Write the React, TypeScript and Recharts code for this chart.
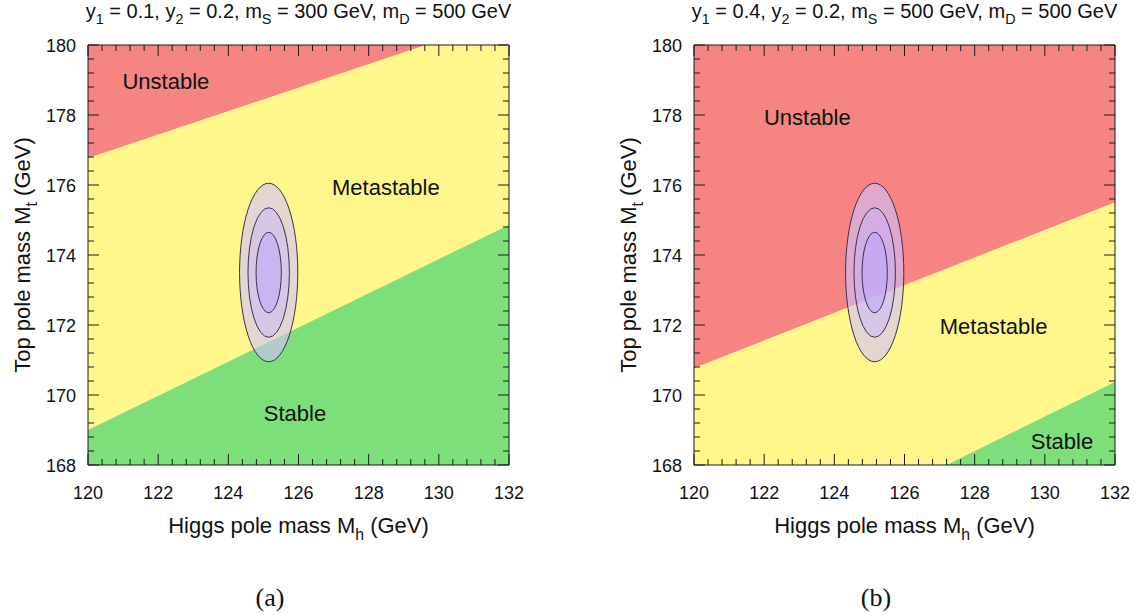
import React from 'react';
import { ComposedChart, XAxis, YAxis, Area, Scatter } from 'recharts';

// ---------- data ----------
const mhDomain: [number, number] = [120, 132];
const mtDomain: [number, number] = [168, 180];
const mhMajorTicks = [120, 122, 124, 126, 128, 130, 132];
const mtMajorTicks = [168, 170, 172, 174, 176, 178, 180];
const minorDivisions = 5;

// full plot (metastable background)
const metastableTop = [
  { mh: 120, mt: 180 },
  { mh: 132, mt: 180 },
];

// Panel (a): y1 = 0.1, y2 = 0.2, mS = 300 GeV, mD = 500 GeV
const unstableEdgeA = [
  { mh: 120, mt: 176.77 },
  { mh: 132, mt: 180.8 },
];
const stableEdgeA = [
  { mh: 120, mt: 169.0 },
  { mh: 132, mt: 174.86 },
];
const regionLabelsA = [
  { mh: 122.22, mt: 178.97, name: 'Unstable' },
  { mh: 128.49, mt: 175.94, name: 'Metastable' },
  { mh: 125.9, mt: 169.49, name: 'Stable' },
];

// Panel (b): y1 = 0.4, y2 = 0.2, mS = 500 GeV, mD = 500 GeV
const unstableEdgeB = [
  { mh: 120, mt: 170.77 },
  { mh: 132, mt: 175.51 },
];
const stableEdgeB = [
  { mh: 127.2, mt: 168.0 },
  { mh: 132, mt: 170.37 },
];
const regionLabelsB = [
  { mh: 123.23, mt: 177.94, name: 'Unstable' },
  { mh: 128.54, mt: 171.97, name: 'Metastable' },
  { mh: 130.49, mt: 168.69, name: 'Stable' },
];

// experimental ellipses (1, 2, 3 sigma), outer first
const ellipseCenter = [{ mh: 125.15, mt: 173.5 }];
const ellipseSemiMh = [0.83, 0.59, 0.36];
const ellipseSemiMt = [2.55, 1.85, 1.15];

// ---------- style / layout ----------
const COLORS = {
  unstable: '#f58483',
  metastable: '#fff78c',
  stable: '#7ddf7a',
  frame: '#1a1a1a',
  ellipseStroke: '#3a3150',
};
const ellipseFills = [
  { fill: 'rgb(208,192,255)', opacity: 0.6 },
  { fill: 'rgb(200,180,255)', opacity: 0.45 },
  { fill: 'rgb(185,165,255)', opacity: 0.5 },
];
const CHART_W = 560;
const CHART_H = 615;
const AXIS_T = 1; // axis thickness in layout
const MARGIN = { top: 44, right: 50, bottom: 149, left: 87 };
const PLOT_LEFT = MARGIN.left + AXIS_T;
const PLOT_TOP = MARGIN.top + AXIS_T;
const PLOT_W = CHART_W - MARGIN.left - MARGIN.right - 2 * AXIS_T;
const PLOT_H = CHART_H - MARGIN.top - MARGIN.bottom - 2 * AXIS_T;
const FONT = '"Liberation Sans", Arial, Helvetica, sans-serif';

const buildTicks = (majors: number[]) => {
  const out: number[] = [];
  for (let i = 0; i < majors.length - 1; i++) {
    const step = (majors[i + 1] - majors[i]) / minorDivisions;
    for (let k = 0; k < minorDivisions; k++) {
      out.push(Math.round((majors[i] + k * step) * 1000) / 1000);
    }
  }
  out.push(majors[majors.length - 1]);
  return out;
};
const mhTicks = buildTicks(mhMajorTicks);
const mtTicks = buildTicks(mtMajorTicks);

const isMajor = (v: number, majors: number[]) => majors.some((m) => Math.abs(m - v) < 1e-6);

const makeTick = (side: 'bottom' | 'top' | 'left' | 'right', showLabel: boolean) => (props: any) => {
  const { x, y, payload } = props;
  const v = payload.value as number;
  const major = isMajor(v, side === 'bottom' || side === 'top' ? mhMajorTicks : mtMajorTicks);
  const len = major ? 11 : 6;
  let line;
  if (side === 'bottom') line = <line x1={x} x2={x} y1={y} y2={y - len} stroke={COLORS.frame} strokeWidth={1} />;
  else if (side === 'top') line = <line x1={x} x2={x} y1={y} y2={y + len} stroke={COLORS.frame} strokeWidth={1} />;
  else if (side === 'left') line = <line x1={x} x2={x + len} y1={y} y2={y} stroke={COLORS.frame} strokeWidth={1} />;
  else line = <line x1={x} x2={x - len} y1={y} y2={y} stroke={COLORS.frame} strokeWidth={1} />;
  let label = null;
  if (showLabel && major) {
    if (side === 'bottom')
      label = (
        <text x={x} y={y + 34} textAnchor="middle" fontSize={18} fontFamily={FONT} fill="#111">
          {String(v)}
        </text>
      );
    else if (side === 'left')
      label = (
        <text x={x - 12} y={y + 6.5} textAnchor="end" fontSize={18} fontFamily={FONT} fill="#111">
          {String(v)}
        </text>
      );
  }
  return (
    <g>
      {line}
      {label}
    </g>
  );
};

const tickBottom = makeTick('bottom', true);
const tickTop = makeTick('top', false);
const tickLeft = makeTick('left', true);
const tickRight = makeTick('right', false);

const EllipseShape = (props: any) => {
  const { cx, cy } = props;
  const pxPerMh = PLOT_W / (mhDomain[1] - mhDomain[0]);
  const pxPerMt = PLOT_H / (mtDomain[1] - mtDomain[0]);
  return (
    <g>
      {ellipseSemiMh.map((a, i) => (
        <ellipse
          key={i}
          cx={cx}
          cy={cy}
          rx={a * pxPerMh}
          ry={ellipseSemiMt[i] * pxPerMt}
          fill={ellipseFills[i].fill}
          fillOpacity={ellipseFills[i].opacity}
          stroke={COLORS.ellipseStroke}
          strokeWidth={1}
        />
      ))}
    </g>
  );
};

const RegionLabel = (props: any) => {
  const { cx, cy, payload } = props;
  return (
    <text x={cx} y={cy + 8} textAnchor="middle" fontSize={22} fontFamily={FONT} fill="#111">
      {payload.name}
    </text>
  );
};

type PanelProps = {
  unstable: { mh: number; mt: number }[];
  stable: { mh: number; mt: number }[];
  labels: { mh: number; mt: number; name: string }[];
};

const axisCommon = {
  type: 'number' as const,
  interval: 0 as const,
  allowDataOverflow: true,
  tickSize: 0,
  tickMargin: 0,
  tickLine: false,
  axisLine: { stroke: COLORS.frame, strokeWidth: 1 },
};

const Panel = ({ unstable, stable, labels }: PanelProps) => (
  <ComposedChart width={CHART_W} height={CHART_H} margin={MARGIN}>
    <XAxis xAxisId={0} dataKey="mh" domain={mhDomain} ticks={mhTicks} height={AXIS_T} tick={tickBottom} {...axisCommon} />
    <XAxis xAxisId="top" orientation="top" dataKey="mh" domain={mhDomain} ticks={mhTicks} height={AXIS_T} tick={tickTop} {...axisCommon} />
    <YAxis yAxisId={0} dataKey="mt" domain={mtDomain} ticks={mtTicks} width={AXIS_T} tick={tickLeft} {...axisCommon} />
    <YAxis yAxisId="right" orientation="right" dataKey="mt" domain={mtDomain} ticks={mtTicks} width={AXIS_T} tick={tickRight} {...axisCommon} />
    <Area
      data={metastableTop}
      dataKey="mt"
      type="linear"
      baseValue={mtDomain[0]}
      fill={COLORS.metastable}
      fillOpacity={1}
      stroke="none"
      isAnimationActive={false}
      activeDot={false}
      dot={false}
    />
    <Area
      data={unstable}
      dataKey="mt"
      type="linear"
      baseValue={mtDomain[1]}
      fill={COLORS.unstable}
      fillOpacity={1}
      stroke="none"
      isAnimationActive={false}
      activeDot={false}
      dot={false}
    />
    <Area
      data={stable}
      dataKey="mt"
      type="linear"
      baseValue={mtDomain[0]}
      fill={COLORS.stable}
      fillOpacity={1}
      stroke="none"
      isAnimationActive={false}
      activeDot={false}
      dot={false}
    />
    <Scatter data={ellipseCenter} dataKey="mt" shape={EllipseShape} isAnimationActive={false} />
    <Scatter data={labels} dataKey="mt" shape={RegionLabel} isAnimationActive={false} />
  </ComposedChart>
);

type Part = [string, boolean];
const SubText = ({ x, y, parts, size, anchor = 'middle', transform }: { x: number; y: number; parts: Part[]; size: number; anchor?: string; transform?: string }) => {
  const shift = size * 0.3;
  let prevSub = false;
  return (
    <text x={x} y={y} textAnchor={anchor as any} fontSize={size} fontFamily={FONT} fill="#111" transform={transform}>
      {parts.map(([t, sub], i) => {
        const dy = sub && !prevSub ? shift : !sub && prevSub ? -shift : 0;
        prevSub = sub;
        return (
          <tspan key={i} dy={dy} fontSize={sub ? size * 0.72 : size}>
            {t}
          </tspan>
        );
      })}
    </text>
  );
};

const titleA: Part[] = [
  ['y', false], ['1', true], [' = 0.1, y', false], ['2', true], [' = 0.2, m', false], ['S', true], [' = 300 GeV, m', false], ['D', true], [' = 500 GeV', false],
];
const titleB: Part[] = [
  ['y', false], ['1', true], [' = 0.4, y', false], ['2', true], [' = 0.2, m', false], ['S', true], [' = 500 GeV, m', false], ['D', true], [' = 500 GeV', false],
];
const xLabel: Part[] = [['Higgs pole mass M', false], ['h', true], [' (GeV)', false]];
const yLabel: Part[] = [['Top pole mass M', false], ['t', true], [' (GeV)', false]];

const PANEL_B_OFFSET = 606;

export default function App() {
  const plotCx = PLOT_LEFT + PLOT_W / 2;
  const plotCy = PLOT_TOP + PLOT_H / 2;
  return (
    <div style={{ position: 'absolute', left: 0, top: 0, width: 1140, height: 615, background: '#fff', overflow: 'hidden' }}>
      <div style={{ position: 'absolute', left: 0, top: 0 }}>
        <Panel unstable={unstableEdgeA} stable={stableEdgeA} labels={regionLabelsA} />
      </div>
      <div style={{ position: 'absolute', left: PANEL_B_OFFSET, top: 0 }}>
        <Panel unstable={unstableEdgeB} stable={stableEdgeB} labels={regionLabelsB} />
      </div>
      <svg width={1140} height={615} style={{ position: 'absolute', left: 0, top: 0, pointerEvents: 'none' }}>
        {[0, PANEL_B_OFFSET].map((off, i) => (
          <g key={i}>
            <SubText x={off + plotCx} y={18} parts={i === 0 ? titleA : titleB} size={20} />
            <SubText x={off + plotCx} y={533} parts={xLabel} size={22} />
            <SubText x={0} y={0} parts={yLabel} size={22} transform={`translate(${off + 30}, ${plotCy}) rotate(-90)`} />
            <text x={off + 270} y={606} textAnchor="middle" fontSize={26} fontFamily='"Liberation Serif", "DejaVu Serif", serif' fill="#111">
              {i === 0 ? '(a)' : '(b)'}
            </text>
          </g>
        ))}
      </svg>
    </div>
  );
}
